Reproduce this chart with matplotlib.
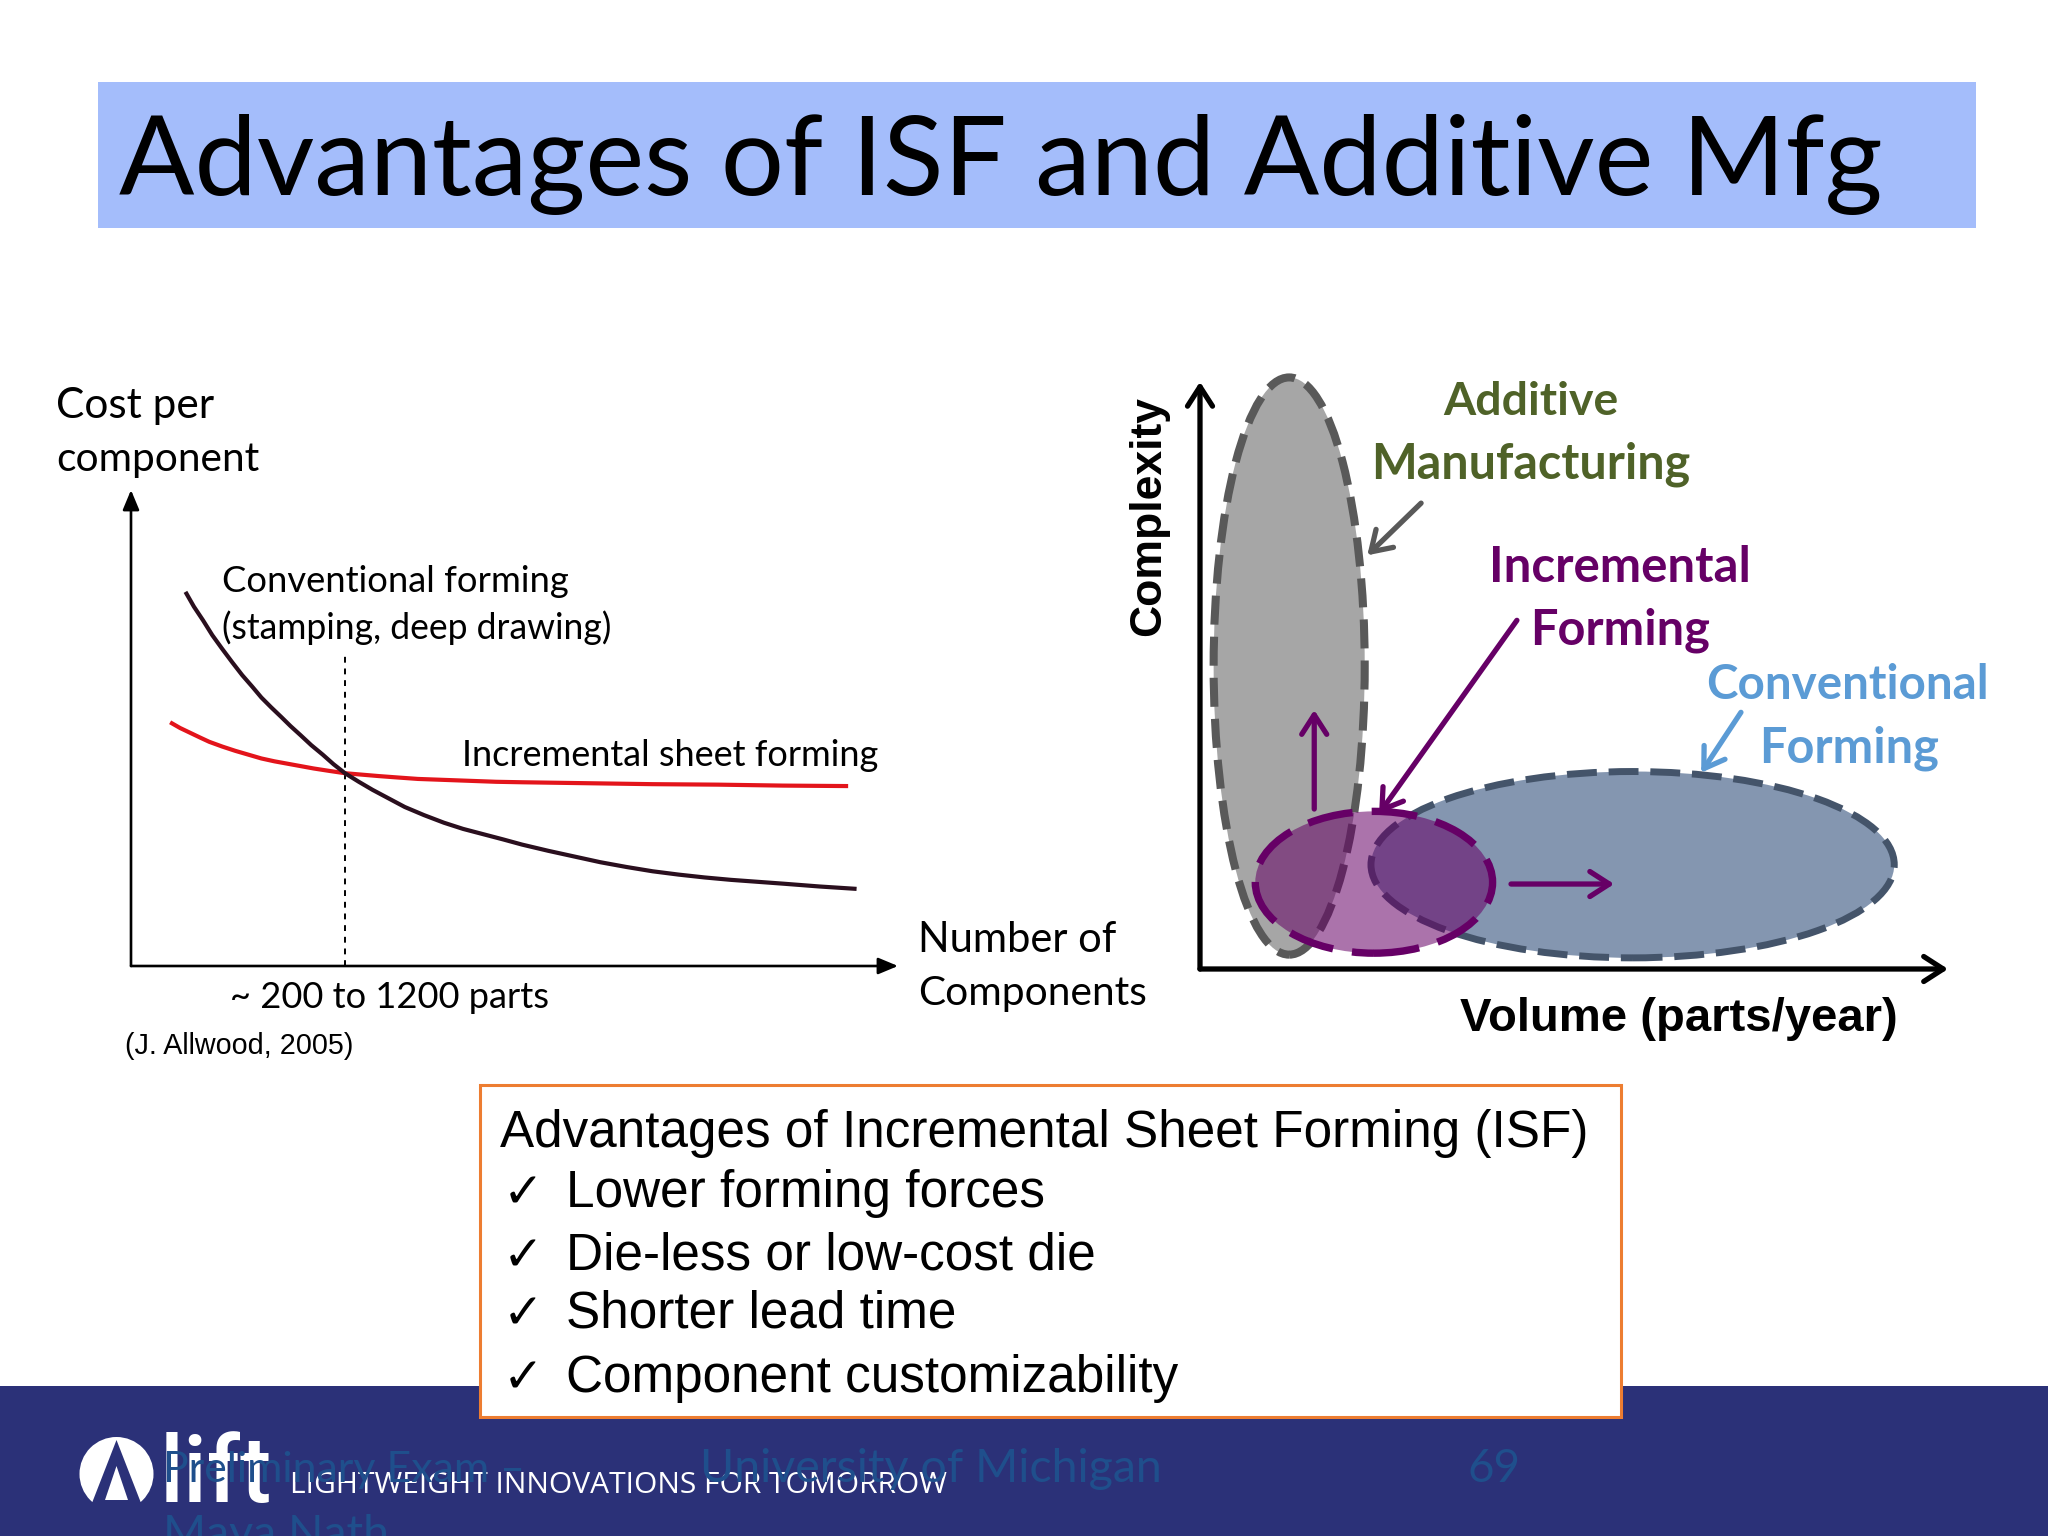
import matplotlib
matplotlib.use("Agg")
import matplotlib.pyplot as plt
from matplotlib.patches import Ellipse, Rectangle, Circle, Polygon

# ---------------- data ----------------
title = "Advantages of ISF and Additive Mfg"

# Left chart: cost per component vs number of components (normalised 0-100 axes)
conv_x = [7.1, 8.2, 9.4, 10.6, 11.9, 13.2, 14.5, 15.8, 17.0, 18.3, 19.6, 20.8,
          22.1, 23.5, 25.0, 26.4, 27.9, 29.7, 31.5, 33.6, 35.7, 38.2, 40.8, 43.3,
          45.9, 48.5, 51.0, 54.4, 57.8, 61.2, 64.6, 68.0, 71.4, 74.8, 78.2, 81.6,
          85.0, 89.8, 94.6]
conv_y = [78.6, 75.5, 72.6, 69.5, 66.6, 63.8, 61.1, 58.7, 56.4, 54.3, 52.3, 50.4,
          48.5, 46.4, 44.4, 42.4, 40.5, 38.7, 37.0, 35.2, 33.4, 31.7, 30.1, 28.8,
          27.7, 26.6, 25.5, 24.2, 23.0, 21.8, 20.8, 19.9, 19.2, 18.6, 18.1, 17.7,
          17.3, 16.7, 16.2]
isf_x = [5.1, 6.4, 7.7, 9.0, 10.2, 11.9, 13.6, 15.3, 17.0, 18.7, 20.4, 22.1, 23.8,
         25.8, 27.9, 30.1, 32.3, 34.8, 37.4, 40.8, 44.2, 47.6, 51.0, 55.2, 59.5,
         68.0, 76.5, 85.0, 93.5]
isf_y = [51.2, 50.0, 49.0, 48.0, 47.1, 46.1, 45.2, 44.4, 43.6, 43.0, 42.5, 42.0,
         41.5, 41.0, 40.5, 40.2, 39.9, 39.6, 39.3, 39.1, 38.9, 38.7, 38.6, 38.5,
         38.4, 38.2, 38.1, 37.9, 37.8]
breakeven_x = 27.9
breakeven_top = 65.8

left_labels = ["Cost per", "component", "Conventional forming",
               "(stamping, deep drawing)", "Incremental sheet forming",
               "Number of", "Components", "~ 200 to 1200 parts", "(J. Allwood, 2005)"]

# Right chart: complexity vs volume (normalised 0-100 axes)
region_names = ["Additive Manufacturing", "Conventional Forming", "Incremental Forming"]
region_cx = [12.1, 58.7, 23.6]
region_cy = [51.7, 17.8, 14.8]
region_w = [20.5, 71.0, 32.2]
region_h = [98.5, 31.8, 24.2]
region_fill = ["#a6a6a6", "#8496b0", "#660066"]
region_edge = ["#595959", "#44546a", "#660066"]
region_alpha = [1.0, 1.0, 0.55]

# arrows (start -> end) in right-chart data units
arrow_start = [(30.0, 79.5), (43.0, 59.5), (15.5, 27.3), (42.2, 14.5), (73.4, 43.8)]
arrow_end = [(22.7, 70.6), (24.3, 26.5), (15.5, 44.2), (56.2, 14.5), (68.0, 33.5)]
arrow_color = ["#595959", "#660066", "#660066", "#660066", "#5b9bd5"]

box_title = "Advantages of Incremental Sheet Forming (ISF)"
box_items = ["Lower forming forces", "Die-less or low-cost die",
             "Shorter lead time", "Component customizability"]

footer_tag = "LIGHTWEIGHT INNOVATIONS FOR TOMORROW"
footer_left = ["Preliminary Exam \u2013", "Maya Nath"]
footer_mid = "University of Michigan"
footer_page = "69"

# ---------------- figure ----------------
W, H = 2048, 1536
fig = plt.figure(figsize=(20.48, 15.36), dpi=100)
fig.patch.set_facecolor("white")
bg = fig.add_axes([0, 0, 1, 1])
bg.set_xlim(0, W)
bg.set_ylim(H, 0)
bg.axis("off")
renderer = fig.canvas.get_renderer()


def T(x, y, s, target=None, size=20, dim="w", ax=None, **kw):
    ax = ax or bg
    t = ax.text(x, y, s, fontsize=size, **kw)
    if target:
        bb = t.get_window_extent(renderer)
        cur = bb.width if dim == "w" else bb.height
        t.set_fontsize(size * target / cur)
    return t


def px_axes(x0, y0, x1, y1):
    a = fig.add_axes([x0 / W, 1 - y1 / H, (x1 - x0) / W, (y1 - y0) / H])
    a.set_xlim(0, 100)
    a.set_ylim(0, 100)
    a.axis("off")
    a.patch.set_alpha(0)
    return a


# title banner
bg.add_patch(Rectangle((98, 82), 1878, 146, facecolor="#a4bdfb", edgecolor="none"))
T(119, 195, title, target=1764, size=80, family="Lato", color="black",
  va="baseline", ha="left")

# ---------------- left chart ----------------
axL = px_axes(131, 490, 898, 966)
for xy in [(100, 0), (0, 100)]:
    axL.annotate("", xy=xy, xytext=(0, 0), annotation_clip=False,
                 arrowprops=dict(arrowstyle="-|>,head_length=0.6,head_width=0.25",
                                 lw=1.9, color="black", mutation_scale=20,
                                 shrinkA=0, shrinkB=0))
axL.plot([breakeven_x, breakeven_x], [0, breakeven_top], color="black", lw=1.4,
         linestyle=(0, (3, 3)))
axL.plot(isf_x, isf_y, color="#e3141b", lw=3.0, solid_capstyle="butt")
axL.plot(conv_x, conv_y, color="#2a0f1e", lw=3.0, solid_capstyle="butt")

gill = dict(family="Lato", color="black", ha="left", va="center")
T(56, 406, left_labels[0], target=158, size=30, **gill)
T(56, 459, left_labels[1], target=203, size=30, **gill)
T(222, 581, left_labels[2], target=347, size=28, **gill)
T(222, 628, left_labels[3], target=390, size=28, **gill)
T(462, 756, left_labels[4], target=417, size=28, **gill)
T(918, 940, left_labels[5], target=198, size=30, **gill)
T(918, 994, left_labels[6], target=229, size=30, **gill)
T(230, 997, left_labels[7], target=319, size=28, **gill)
T(125, 1046, left_labels[8], target=229, size=20, family="Liberation Sans",
  color="black", ha="left", va="center")

# ---------------- right chart ----------------
axR = px_axes(1200, 383, 1937, 969)
lws = [5.8, 5.0, 5.3]
dash = [(0, (3.6, 1.5)), (0, (4.3, 1.7)), (0, (6.2, 2.6))]
for i in range(len(region_names)):
    e = Ellipse((region_cx[i], region_cy[i]), region_w[i], region_h[i],
                facecolor=region_fill[i], edgecolor="none", alpha=region_alpha[i],
                zorder=2 + i, clip_on=False)
    axR.add_patch(e)
    e2 = Ellipse((region_cx[i], region_cy[i]), region_w[i], region_h[i],
                 facecolor="none", edgecolor=region_edge[i], lw=lws[i],
                 linestyle=dash[i], zorder=2 + i, clip_on=False)
    axR.add_patch(e2)

for (s, e, c) in zip(arrow_start, arrow_end, arrow_color):
    axR.annotate("", xy=e, xytext=s, annotation_clip=False, zorder=8,
                 arrowprops=dict(arrowstyle="->,head_length=0.7,head_width=0.45",
                                 lw=3.8, color=c, mutation_scale=20,
                                 shrinkA=0, shrinkB=0))

# axes arrows
for xy in [(101.5, 0), (0, 100.2)]:
    axR.annotate("", xy=xy, xytext=(0, 0), annotation_clip=False, zorder=9,
                 arrowprops=dict(arrowstyle="->,head_length=0.7,head_width=0.45",
                                 lw=3.8, color="black", mutation_scale=20,
                                 shrinkA=0, shrinkB=0))

T(1149, 516, "Complexity", target=240, size=30, dim="h", rotation=90,
  family="Liberation Sans", weight="bold", color="black", ha="center", va="center")
T(1679, 1019, "Volume (parts/year)", target=438, size=30, family="Liberation Sans",
  weight="bold", color="black", ha="center", va="center")

lab = dict(family="Lato", weight="bold", ha="center", va="center")
T(1531, 402, "Additive", target=175, size=36, color="#4f6228", **lab)
T(1531, 464, "Manufacturing", target=319, size=36, color="#4f6228", **lab)
T(1620, 567, "Incremental", target=261, size=36, color="#660066", **lab)
T(1620, 630, "Forming", target=179, size=36, color="#660066", **lab)
T(1847, 685, "Conventional", target=282, size=36, color="#5b9bd5", **lab)
T(1849, 748, "Forming", target=179, size=36, color="#5b9bd5", **lab)

# ---------------- footer ----------------
bg.add_patch(Rectangle((0, 1386), W, 150, facecolor="#2b3178", edgecolor="none",
                       zorder=1))
# logo emblem
bg.add_patch(Circle((116.5, 1474), 37, facecolor="white", edgecolor="none", zorder=2))
bg.add_patch(Rectangle((70, 1502), 100, 20, facecolor="#2b3178", edgecolor="none",
                       zorder=2))
bg.add_patch(Polygon([(116.5, 1440), (92, 1503), (141, 1503)], closed=True,
                     facecolor="#2b3178", edgecolor="none", zorder=3))
bg.add_patch(Polygon([(116.5, 1466), (105, 1500), (128, 1500)], closed=True,
                     facecolor="white", edgecolor="none", zorder=4))
T(160, 1502, "lift", target=90, size=80, dim="h", family="Roboto",
  weight="medium", color="white", ha="left", va="baseline", zorder=3)
T(290, 1493, footer_tag, target=657, size=22, family="Open Sans", color="white",
  ha="left", va="baseline", zorder=3)
dim = dict(family="Lato", color="#1f4f8c", ha="left", va="baseline", zorder=5)
T(163, 1482, footer_left[0], target=363, size=36, **dim)
T(163, 1548, footer_left[1], target=227, size=36, **dim)
T(700, 1482, footer_mid, target=463, size=36, **dim)
T(1468, 1482, footer_page, target=53, size=36, **dim)

# ---------------- advantages box ----------------
bg.add_patch(Rectangle((480, 1085), 1141, 332, facecolor="white",
                       edgecolor="#ed7d31", lw=2.2, zorder=6))
ht = T(500, 1147, box_title, target=1087, size=34, family="Liberation Sans",
       color="black", ha="left", va="baseline", zorder=7)
fs = ht.get_fontsize()
for yb, item in zip([1207, 1270, 1328, 1392], box_items):
    T(503, yb, "\u2713", size=fs * 0.95, family=["DejaVu Sans"], color="black",
      ha="left", va="baseline", zorder=7)
    T(566, yb, item, size=fs, family="Liberation Sans", color="black",
      ha="left", va="baseline", zorder=7)

fig.savefig("out.png", dpi=100)
